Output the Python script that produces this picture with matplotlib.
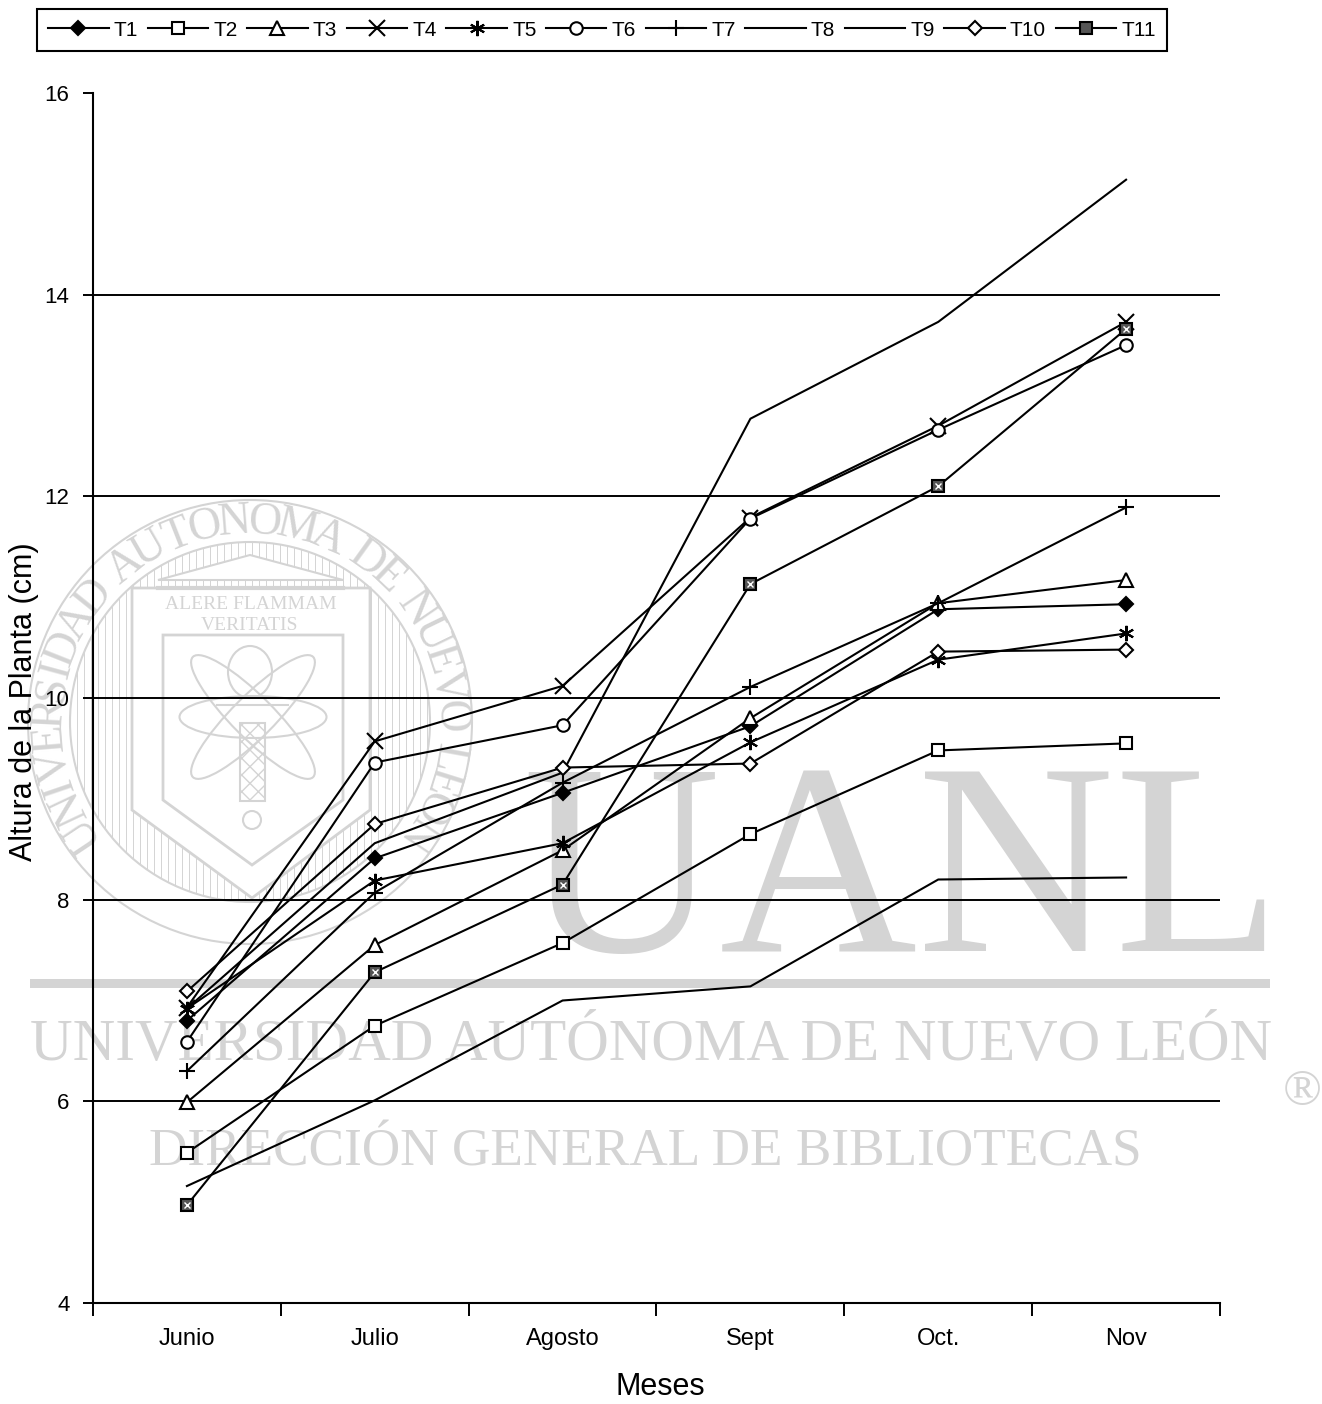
import numpy as np
import matplotlib
matplotlib.use("Agg")
import matplotlib.pyplot as plt
from matplotlib.patches import Circle, Ellipse, Polygon, Rectangle

plt.rcParams['font.family'] = ['Liberation Sans', 'DejaVu Sans']

meses = ["Junio", "Julio", "Agosto", "Sept", "Oct.", "Nov"]
T1 = [6.80, 8.41, 9.06, 9.72, 10.88, 10.93]
T2 = [5.49, 6.75, 7.57, 8.65, 9.48, 9.55]
T3 = [5.99, 7.55, 8.49, 9.80, 10.94, 11.17]
T4 = [6.93, 9.57, 10.12, 11.79, 12.70, 13.73]
T5 = [6.92, 8.19, 8.56, 9.56, 10.38, 10.64]
T6 = [6.59, 9.36, 9.73, 11.78, 12.66, 13.50]
T7 = [6.30, 8.07, 9.16, 10.11, 10.94, 11.89]
T8 = [5.16, 6.01, 7.00, 7.14, 8.20, 8.22]
T9 = [6.92, 8.56, 9.26, 12.77, 13.73, 15.14]
T10 = [7.09, 8.75, 9.31, 9.35, 10.46, 10.48]
T11 = [4.97, 7.28, 8.15, 11.13, 12.10, 13.66]
y_ticks = [4, 6, 8, 10, 12, 14, 16]

W, H = 1322, 1404
gray = "#d4d4d4"
fig = plt.figure(figsize=(W / 100, H / 100), dpi=100)

# watermark layer, in pixel coordinates of the page
bg = fig.add_axes([0, 0, 1, 1], zorder=0)
bg.set_xlim(0, W)
bg.set_ylim(H, 0)
bg.axis("off")

serif = "Liberation Serif"
bg.text(902, 951, "UANL", family=serif, size=197, color=gray, ha="center", va="baseline")
bg.add_patch(Rectangle((30, 979), 1240, 9, color=gray, lw=0))
bg.text(651, 1060, "UNIVERSIDAD AUTÓNOMA DE NUEVO LEÓN", family=serif, size=42.5, color=gray,
        ha="center", va="baseline")
bg.text(645, 1165, "DIRECCIÓN GENERAL DE BIBLIOTECAS", family=serif, size=38.3, color=gray,
        ha="center", va="baseline")
bg.text(1302, 1105, "®", family=serif, size=37, color=gray, ha="center", va="baseline")

# crest
cx, cy = 250, 722
bg.add_patch(Circle((cx, cy), 222, fc="none", ec=gray, lw=1.5))
ring = Circle((cx, cy), 180, fc="none", ec=gray, lw=1.5)
bg.add_patch(ring)
for x in np.arange(cx - 180, cx + 181, 7):
    ln, = bg.plot([x, x], [cy - 180, cy + 180], color=gray, lw=0.7, zorder=0.5)
    ln.set_clip_path(ring)
shield = [(132, 588), (370, 588), (370, 810), (252, 898), (132, 810)]
bg.add_patch(Polygon(shield, fc="white", ec=gray, lw=2))
bg.add_patch(Polygon([(163, 635), (343, 635), (343, 800), (252, 865), (163, 800)],
                     fc="none", ec=gray, lw=2))
bg.add_patch(Polygon([(158, 580), (250, 555), (343, 580)], fc="white", ec=gray, lw=1.5))
bg.plot([158, 343], [588, 588], color=gray, lw=3)
for ang in [0, 45, 135]:
    bg.add_patch(Ellipse((253, 717), 170 if ang else 147, 42, angle=ang, fc="none", ec=gray, lw=1.5))
bg.add_patch(Ellipse((250, 672), 44, 52, fc="none", ec=gray, lw=1.5))
bg.plot([217, 288], [705, 705], color=gray, lw=1.5)
bg.add_patch(Rectangle((240, 723), 25, 78, fc="none", ec=gray, lw=1.5, hatch="xx"))
bg.add_patch(Circle((252, 820), 9, fc="none", ec=gray, lw=1.5))
bg.text(251, 609, "ALERE FLAMMAM", family=serif, size=14, color=gray, ha="center", va="baseline")
bg.text(250, 630, "VERITATIS", family=serif, size=14, color=gray, ha="center", va="baseline")

# crest motto, letters spaced by rough width
lema = "UNIVERSIDAD AUTONOMA DE NUEVO LEON"
anchos = {"I": 0.45, "M": 1.1, " ": 0.45, "E": 0.75, "S": 0.7, "L": 0.75, "R": 0.8}
pesos = np.array([anchos.get(ch, 0.9) for ch in lema])
angs = -128 + 256 * (np.cumsum(pesos) - pesos / 2) / pesos.sum()
for ch, a in zip(lema, angs):
    r = np.radians(a)
    bg.text(cx + 200 * np.sin(r), cy - 200 * np.cos(r), ch, family=serif, size=33, color=gray,
            rotation=-a, ha="center", va="center", rotation_mode="anchor")

# chart
ax = fig.add_axes([93 / W, 1 - 1303 / H, 1127 / W, 1210 / H], zorder=1)
ax.patch.set_visible(False)
x = np.arange(len(meses))
lw = 1.5
st = dict(color="black", lw=lw, mfc="white", mec="black", mew=1.5, ms=9, clip_on=False)

ax.plot(x, T1, marker="D", label="T1", **{**st, "mfc": "black", "ms": 7.5})
ax.plot(x, T2, marker="s", label="T2", **st)
ax.plot(x, T3, marker="^", label="T3", **{**st, "ms": 10})
ax.plot(x, T4, marker="x", label="T4", **{**st, "ms": 11})
ax.plot(x, T5, marker=(6, 2, 0), label="T5", **{**st, "ms": 11})
ax.plot(x, T6, marker="o", label="T6", **st)
ax.plot(x, T7, marker="+", label="T7", **{**st, "ms": 11})
ax.plot(x, T8, label="T8", color="black", lw=lw)
ax.plot(x, T9, label="T9", color="black", lw=lw)
ax.plot(x, T10, marker="D", label="T10", **{**st, "ms": 7.5})
ax.plot(x, T11, marker="s", label="T11", **{**st, "mfc": "#555555"})
# the T11 square has a cross inside
ax.plot(x, T11, ls="none", marker="x", ms=5, mew=1, color="white", clip_on=False)

ax.set_xlim(-0.5, 5.5)
ax.set_ylim(4, 16)
ax.set_yticks(y_ticks)
ax.yaxis.grid(True, color="black", lw=1.4)
ax.yaxis.get_gridlines()[-1].set_visible(False)
ax.set_axisbelow(True)
ax.set_xticks(np.arange(7) - 0.5)
ax.set_xticklabels([])
ax.set_xticks(x, meses, minor=True)
ax.tick_params(axis="x", which="major", length=9, width=1.4)
ax.tick_params(axis="x", which="minor", length=0, pad=18, labelsize=17)
ax.tick_params(axis="y", length=7, width=1.4, labelsize=16, pad=10)
ax.spines["top"].set_visible(False)
ax.spines["right"].set_visible(False)
ax.spines["left"].set_linewidth(1.5)
ax.spines["bottom"].set_linewidth(1.5)
fig.text(660 / W, 1 - 1387 / H, "Meses", size=22, ha="center", va="center")
fig.text(24 / W, 1 - 702 / H, "Altura de la Planta (cm)", size=22, rotation=90, ha="center", va="center")

leg = fig.legend(loc="center", bbox_to_anchor=(602 / W, 1 - 30 / H), ncol=11, fontsize=15,
                 handlelength=2.9, handletextpad=0.25, columnspacing=0.46, borderpad=0.55,
                 fancybox=False, framealpha=1, edgecolor="black", borderaxespad=0)
leg.get_frame().set_linewidth(1.5)

fig.savefig("out.png", dpi=100)
